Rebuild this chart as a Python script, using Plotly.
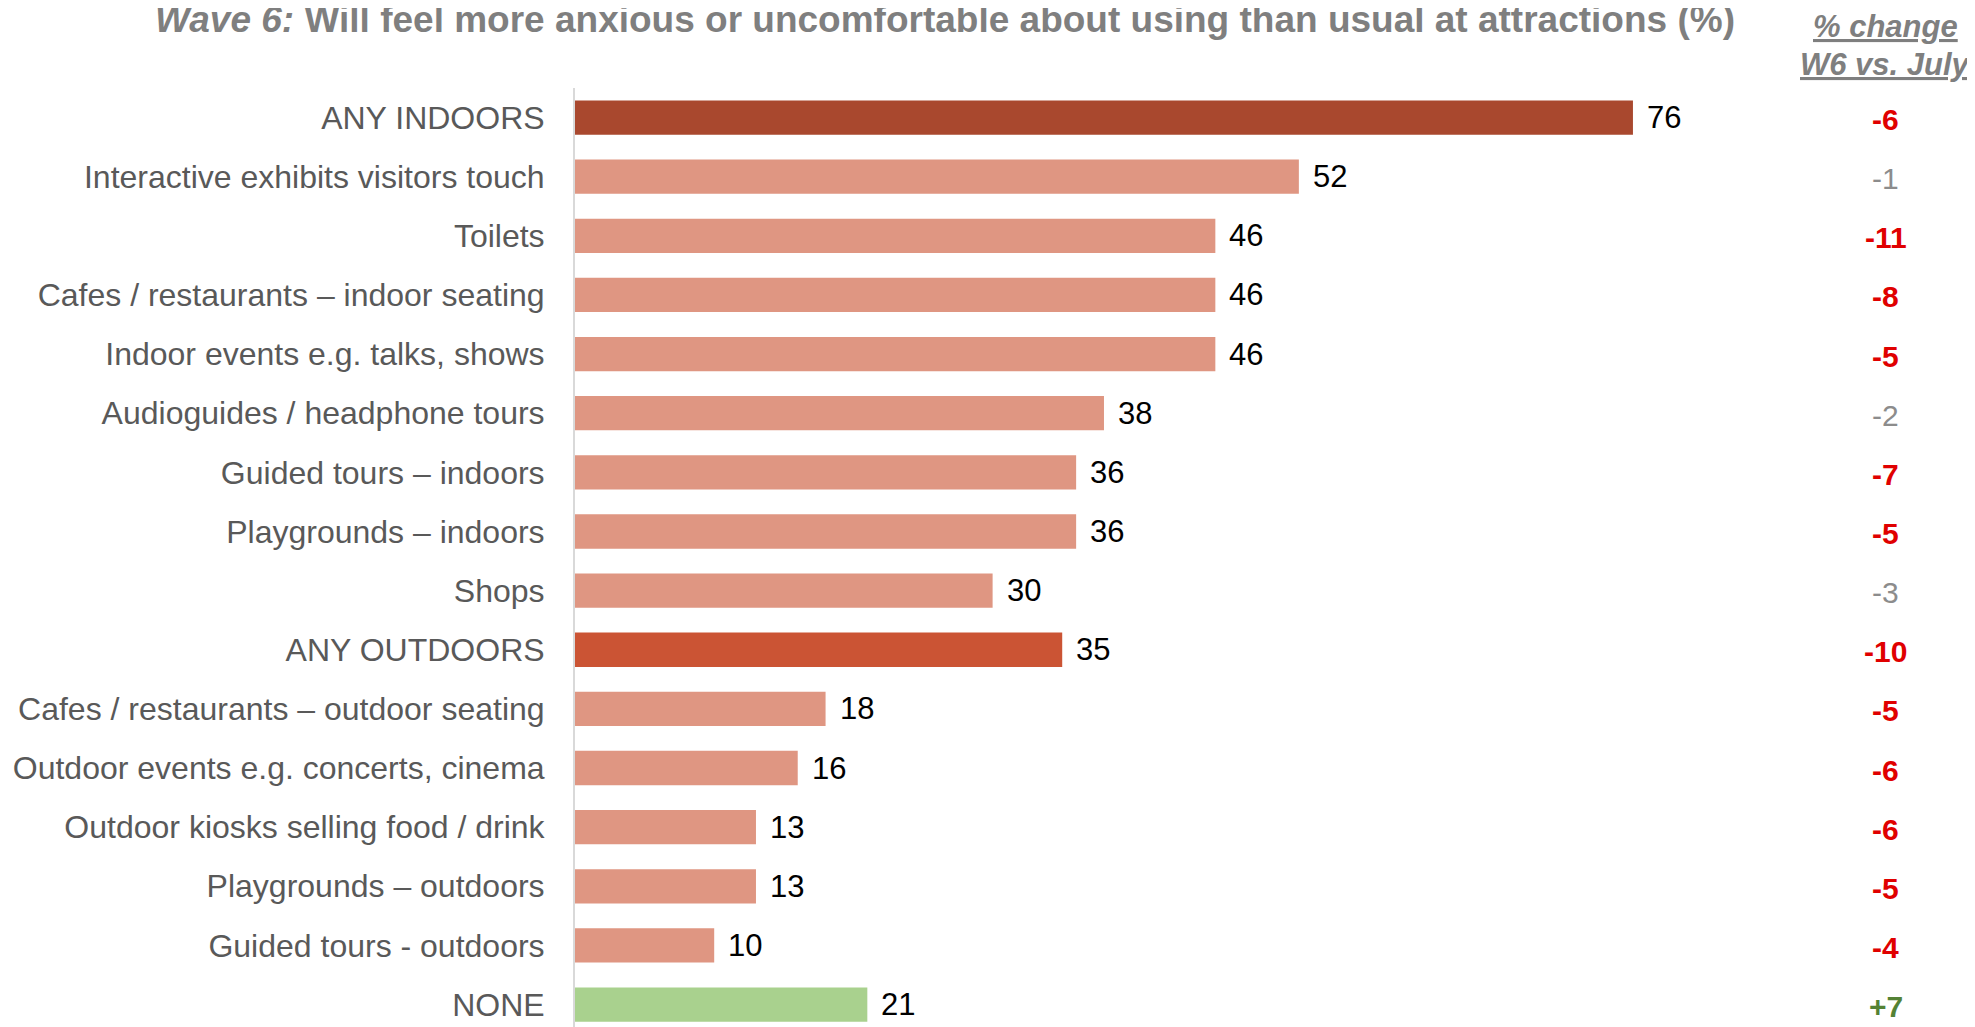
import plotly.graph_objects as go

categories = [
    "ANY INDOORS",
    "Interactive exhibits visitors touch",
    "Toilets",
    "Cafes / restaurants – indoor seating",
    "Indoor events e.g. talks, shows",
    "Audioguides / headphone tours",
    "Guided tours – indoors",
    "Playgrounds – indoors",
    "Shops",
    "ANY OUTDOORS",
    "Cafes / restaurants – outdoor seating",
    "Outdoor events e.g. concerts, cinema",
    "Outdoor kiosks selling food / drink",
    "Playgrounds – outdoors",
    "Guided tours - outdoors",
    "NONE",
]
values = [76, 52, 46, 46, 46, 38, 36, 36, 30, 35, 18, 16, 13, 13, 10, 21]
changes = ["-6", "-1", "-11", "-8", "-5", "-2", "-7", "-5", "-3", "-10", "-5", "-6", "-6", "-5", "-4", "+7"]
change_kind = ["red", "grey", "red", "red", "red", "grey", "red", "red", "grey", "red",
               "red", "red", "red", "red", "red", "green"]

bar_colors = []
for c in categories:
    if c == "ANY INDOORS":
        bar_colors.append("#A9482E")
    elif c == "ANY OUTDOORS":
        bar_colors.append("#CB5434")
    elif c == "NONE":
        bar_colors.append("#A9D18E")
    else:
        bar_colors.append("#DF9682")

FONT = "Liberation Sans, Arial, sans-serif"

fig = go.Figure()
fig.add_trace(go.Bar(
    x=values, y=categories, orientation="h",
    marker=dict(color=bar_colors, line=dict(width=0)),
    width=0.58, hoverinfo="skip",
))

annotations = []
for c, v in zip(categories, values):
    annotations.append(dict(
        x=v, y=c, xref="x", yref="y", text=str(v), showarrow=False,
        xanchor="left", yanchor="middle", xshift=12,
        font=dict(family=FONT, size=31, color="#000000"),
    ))

kind_style = {
    "red": ("#E00000", True),
    "grey": ("#8C8C8C", False),
    "green": ("#548235", True),
}
CHG_X = 0.937
for c, ch, k in zip(categories, changes, change_kind):
    col, bold = kind_style[k]
    annotations.append(dict(
        x=CHG_X, y=c, xref="paper", yref="y",
        text=f"<b>{ch}</b>" if bold else ch, showarrow=False,
        xanchor="center", yanchor="middle", yshift=-2,
        font=dict(family=FONT, size=30, color=col),
    ))

H = 1027
T = 80
PH = H - T


def py(p):
    return (H - p) / PH


annotations.append(dict(
    x=0.2645, y=py(12), xref="paper", yref="paper",
    text="<b><i>Wave 6:</i> Will feel more anxious or uncomfortable about using than usual at attractions (%)</b>",
    showarrow=False, xanchor="center", yanchor="middle",
    font=dict(family=FONT, size=37, color="#7F7F7F"),
))
annotations.append(dict(
    x=CHG_X, y=py(18), xref="paper", yref="paper",
    text="<b><i><u>% change</u></i></b>",
    showarrow=False, xanchor="center", yanchor="middle",
    font=dict(family=FONT, size=31, color="#7F7F7F"),
))
annotations.append(dict(
    x=CHG_X, y=py(56), xref="paper", yref="paper",
    text="<b><i><u>W6 vs. July</u></i></b>",
    showarrow=False, xanchor="center", yanchor="middle",
    font=dict(family=FONT, size=31, color="#7F7F7F"),
))

fig.update_layout(
    width=1975, height=H,
    margin=dict(l=567, r=9, t=T, b=0),
    paper_bgcolor="white", plot_bgcolor="white",
    showlegend=False,
    annotations=annotations,
    xaxis=dict(range=[0, 100.5], visible=False, fixedrange=True),
    yaxis=dict(
        categoryorder="array", categoryarray=categories,
        range=[15.515, -0.5],
        showline=True, linecolor="#D9D9D9", linewidth=2,
        showgrid=False, zeroline=False, ticks="",
        ticklabelstandoff=22,
        tickfont=dict(family=FONT, size=32, color="#595959"),
        fixedrange=True,
    ),
)

fig.write_html("out.html")
